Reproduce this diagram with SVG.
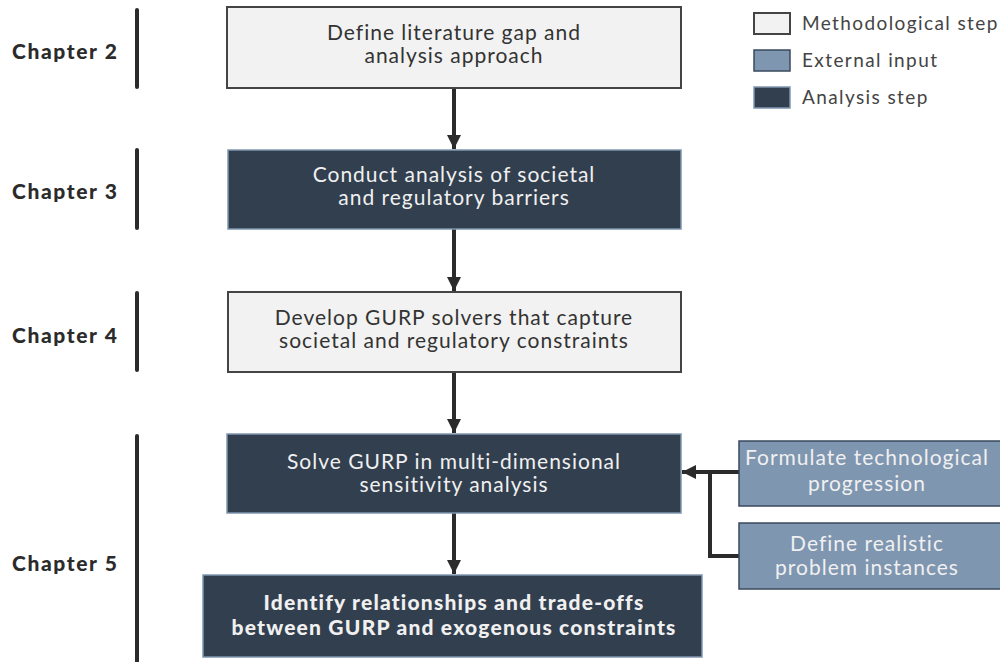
<svg xmlns="http://www.w3.org/2000/svg" width="1000" height="662" viewBox="0 0 1000 662">
<style>
.ch{font-family:Lato,"Liberation Sans",sans-serif;font-weight:900;font-size:21px;letter-spacing:1.6px;fill:#2b2b2b}
.bar{stroke:#2b2b2b;stroke-width:4;stroke-linecap:round}
.meth{fill:#f2f2f2;stroke:#444;stroke-width:2}
.ana{fill:#323f4f;stroke:#8096b0;stroke-width:1.5}
.ext{fill:#7f96b0;stroke:#3a4a5c;stroke-width:1.5}
.t{font-family:Lato,"Liberation Sans",sans-serif;font-size:21px;letter-spacing:1px;text-anchor:middle}
.td{fill:#333}
.tl{fill:#f0f0f0}
.tb{font-weight:900;letter-spacing:1.2px}
.lg{font-family:Lato,"Liberation Sans",sans-serif;font-size:19px;letter-spacing:1.4px;fill:#444}
.conn{stroke:#2b2b2b;stroke-width:4;fill:none}
</style>
<defs>
<marker id="ah" viewBox="0 0 10 10" refX="10" refY="5" markerWidth="3.5" markerHeight="3.5" orient="auto" markerUnits="strokeWidth">
<path d="M0,0 L10,5 L0,10 z" fill="#2b2b2b"/>
</marker>
</defs>
<g id="chapters">
<text class="ch" x="12" y="59">Chapter 2</text>
<line class="bar" x1="137" y1="10" x2="137" y2="87"/>
<text class="ch" x="12" y="199">Chapter 3</text>
<line class="bar" x1="137" y1="150" x2="137" y2="228"/>
<text class="ch" x="12" y="343">Chapter 4</text>
<line class="bar" x1="137" y1="293" x2="137" y2="370"/>
<text class="ch" x="12" y="571">Chapter 5</text>
<line class="bar" x1="137" y1="436" x2="137" y2="664"/>
</g>
<g id="legend">
<rect class="meth" x="754" y="13" width="36" height="21" stroke-width="1.5"/>
<text class="lg" x="802" y="30">Methodological step</text>
<rect class="ext" x="754" y="50" width="36" height="21"/>
<text class="lg" x="802" y="67">External input</text>
<rect class="ana" x="754" y="87" width="36" height="21"/>
<text class="lg" x="802" y="104">Analysis step</text>
</g>
<g id="connectors">
<line class="conn" x1="454" y1="88" x2="454" y2="149" marker-end="url(#ah)"/>
<line class="conn" x1="454" y1="229" x2="454" y2="291" marker-end="url(#ah)"/>
<line class="conn" x1="454" y1="372" x2="454" y2="433" marker-end="url(#ah)"/>
<line class="conn" x1="454" y1="513" x2="454" y2="574" marker-end="url(#ah)"/>
<path class="conn" d="M739,556 H710 V472"/>
<line class="conn" x1="739" y1="472" x2="682" y2="472" marker-end="url(#ah)"/>
</g>
<g id="n1">
<rect class="meth" x="227" y="7" width="454" height="81"/>
<text class="t td" x="454" y="40">Define literature gap and</text>
<text class="t td" x="454" y="63">analysis approach</text>
</g>
<g id="n2">
<rect class="ana" x="228" y="150" width="453" height="79"/>
<text class="t tl" x="454" y="182">Conduct analysis of societal</text>
<text class="t tl" x="454" y="205">and regulatory barriers</text>
</g>
<g id="n3">
<rect class="meth" x="228" y="292" width="453" height="80" stroke="#5a6a7c" stroke-width="1.5"/>
<text class="t td" x="454" y="325">Develop GURP solvers that capture</text>
<text class="t td" x="454" y="348">societal and regulatory constraints</text>
</g>
<g id="n4">
<rect class="ana" x="227" y="434" width="454" height="79" stroke="#323f4f"/>
<text class="t tl" x="454" y="469">Solve GURP in multi-dimensional</text>
<text class="t tl" x="454" y="492">sensitivity analysis</text>
</g>
<g id="n5">
<rect class="ana" x="203" y="575" width="499" height="82" stroke="#323f4f"/>
<text class="t tl tb" x="454" y="610">Identify relationships and trade-offs</text>
<text class="t tl tb" x="454" y="635">between GURP and exogenous constraints</text>
</g>
<g id="n6">
<rect class="ext" x="739" y="441" width="262" height="65"/>
<text class="t tl" x="867" y="465">Formulate technological</text>
<text class="t tl" x="867" y="491">progression</text>
</g>
<g id="n7">
<rect class="ext" x="739" y="523" width="262" height="66"/>
<text class="t tl" x="867" y="551">Define realistic</text>
<text class="t tl" x="867" y="575">problem instances</text>
</g>
</svg>
